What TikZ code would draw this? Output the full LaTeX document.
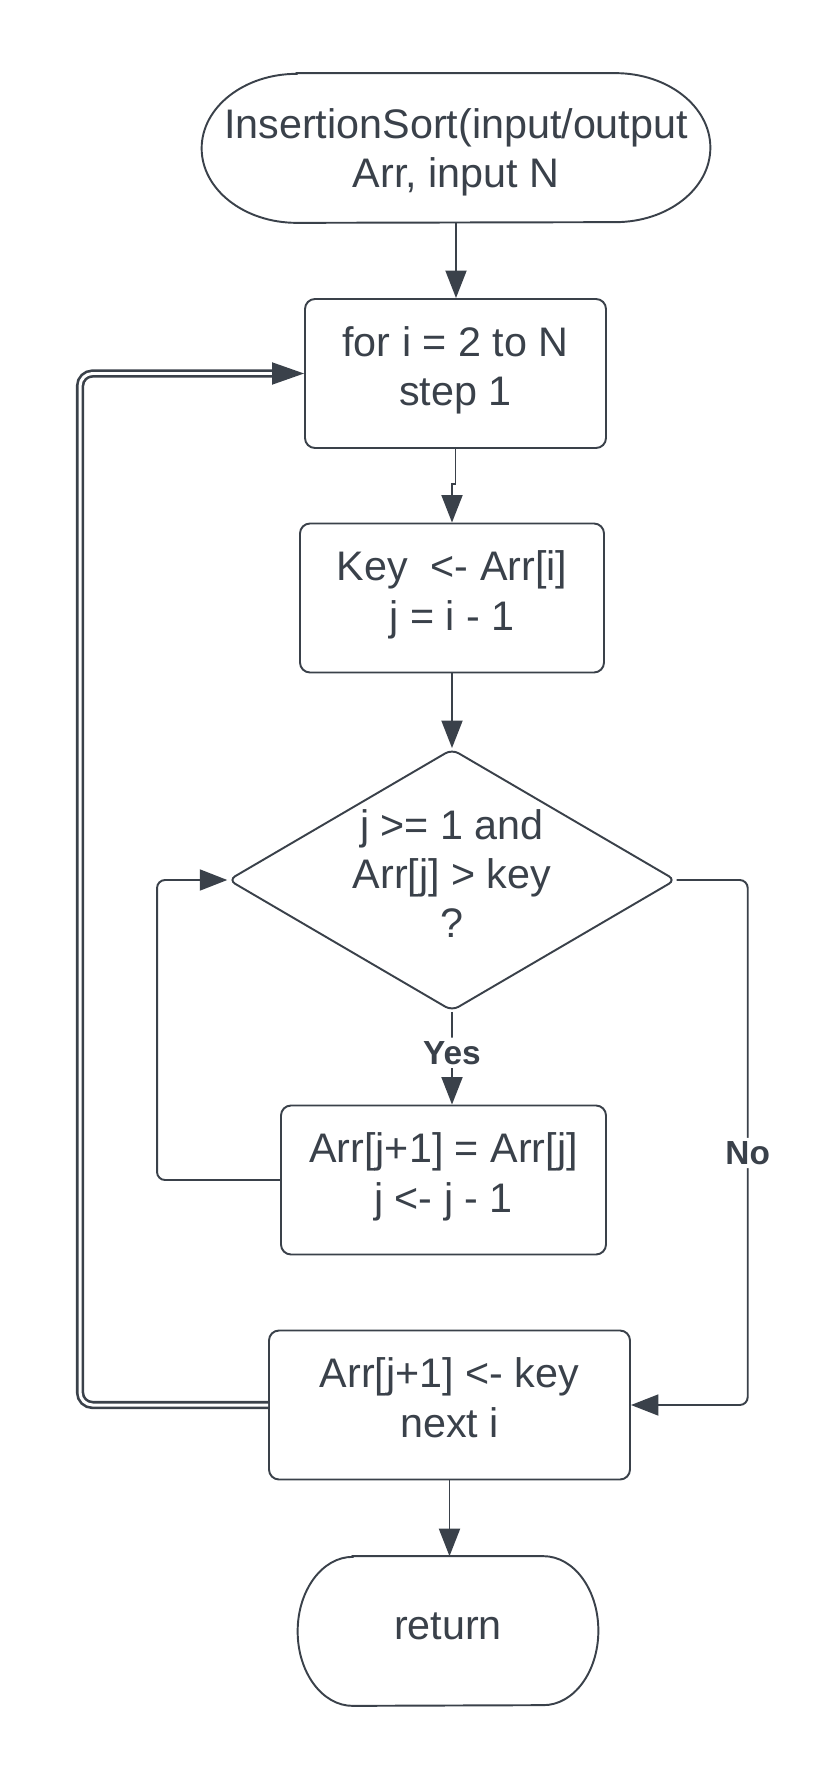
\documentclass[tikz,border=0pt]{standalone}
\usepackage{fontspec}
\setmainfont{Liberation Sans}
\usetikzlibrary{shapes.geometric,arrows.meta}
\definecolor{ink}{HTML}{3A414A}

% outline of a terminal node: flat top and bottom, elliptic ends
\newcommand{\termline}[2]{%
  \draw[ink, line width=1.1pt] ([xshift=#2]#1.north west) -- ([xshift=-#2]#1.north east)
    arc[start angle=90, end angle=-90, x radius=#2, y radius=1.49cm]
    -- ([xshift=#2]#1.south west)
    arc[start angle=270, end angle=90, x radius=#2, y radius=1.49cm] -- cycle;}

\begin{document}
\begin{tikzpicture}[
  every node/.style={text=ink, font=\fontsize{23.5}{27.9}\selectfont},
  box/.style={draw=ink, line width=1.1pt, rounded corners=0.2cm, align=center,
    minimum height=2.98cm, inner sep=0pt, text depth=8.5pt},
  term/.style={align=center, minimum height=2.98cm, inner sep=0pt},
  flow/.style={draw=ink, line width=1.1pt, rounded corners=0.16cm,
    -{Triangle[length=0.55cm,width=0.42cm]}},
  dbl/.style={draw=ink, line width=1.5pt, double=white, double distance=1.7pt,
    rounded corners=0.25cm},
  lbl/.style={fill=white, inner sep=2pt, font=\fontsize{19}{22}\selectfont\bfseries}
]
\useasboundingbox (0,0) rectangle (16.42,-35.66);

\node[term, minimum width=10.16cm, text depth=-1.5pt] (start) at (9.12,-2.96) {InsertionSort(input/output\\Arr, input N};
\termline{start}{1.9cm}

\node[box, minimum width=6.02cm] (forloop) at (9.11,-7.47) {for i = 2 to N\\step 1};
\node[box, minimum width=6.08cm] (keyset) at (9.04,-11.96) {Key\ \ <- Arr[i]\\j = i - 1};

\node[diamond, draw=ink, line width=1.1pt, rounded corners=0.15cm, inner sep=0pt,
  minimum width=8.95cm, minimum height=5.24cm] (cond) at (9.04,-17.6) {};
\node[align=center, yshift=0.12cm] (condtxt) at (cond) {j >= 1 and\\Arr[j] > key\\?};

\node[box, minimum width=6.5cm] (shift) at (8.87,-23.6) {Arr[j+1] = Arr[j]\\j <- j - 1};
\node[box, minimum width=7.22cm] (insert) at (8.99,-28.1) {Arr[j+1] <- key\\next i};

\node[term, minimum width=6cm, text depth=5pt] (ret) at (8.96,-32.62) {return};
\termline{ret}{1.1cm}

\draw[flow] (start.south) -- (start.south |- forloop.north);
\draw[flow, sharp corners] (forloop.south) -- ++(0,-0.7) -| (keyset.north);
\draw[flow, sharp corners] (keyset.south) -- ++(0,-0.7) -| (cond.north);
\draw[flow] (cond.south) -- node[lbl, pos=0.44] {Yes} (cond.south |- shift.north);
\draw[flow] (shift.west) -- ++(-2.46,0) |- (cond.west);
\draw[flow] (cond.east) -- ++(1.42,0) |- node[lbl, pos=0.26] {No} (insert.east);

\coordinate (tipbase) at ([xshift=-0.6cm]forloop.west);
\draw[dbl] (insert.west) -- ++(-3.76,0) |- (tipbase);
\draw[flow, -{Triangle[length=0.64cm,width=0.44cm]}] (tipbase) -- (forloop.west);

\draw[flow] (insert.south) -- (insert.south |- ret.north);
\end{tikzpicture}
\end{document}
